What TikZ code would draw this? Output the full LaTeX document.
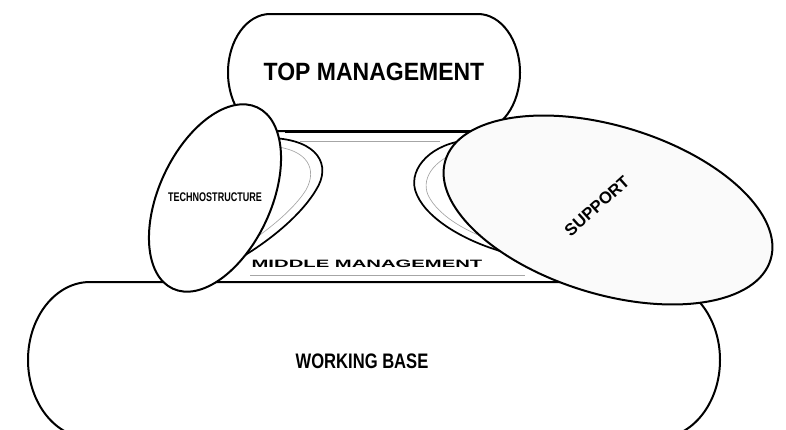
\documentclass[tikz,border=0pt]{standalone}
\usepackage{fontspec}
\setmainfont{Liberation Sans}
\usepackage{graphicx}

\begin{document}
\begin{tikzpicture}[x=0.75pt,y=0.75pt,yscale=-1,xscale=1,
    blob/.style={draw=black, line width=1.5, fill=white},
    rim/.style={draw=black, line width=1.3},
    faint/.style={draw=black!35, line width=0.5}]
				\useasboundingbox (0,0) rectangle (786,429);
				\clip (0,0) rectangle (786,429);
				
				%Shape: Rounded Rect [top management]
				\draw [blob] (270,14) -- (478,14) arc [start angle=-90,end angle=90,x radius=42,y radius=58.5] -- (270,131) arc [start angle=90,end angle=270,x radius=42,y radius=58.5] -- cycle ;
				%Straight Lines [middle management]
				\draw [line width=1.2] (285,132) -- (500,132) ;
				\draw [faint] (300,141) -- (440,141) ;
				\draw [faint] (250,275) -- (525,275) ;
				%Shape: Rounded Rect [working base]
				\draw [blob] (90,282) -- (658,282) arc [start angle=-90,end angle=90,x radius=62,y radius=78] -- (90,438) arc [start angle=90,end angle=270,x radius=62,y radius=78] -- cycle ;
				
				%Curve Lines [shadow of technostructure]
				\draw [rim] (272,138) .. controls (318,140) and (332,165) .. (316,190) .. controls (298,220) and (258,250) .. (222,268) ;
				\draw [faint] (278,147) .. controls (306,151) and (318,168) .. (306,190) .. controls (290,215) and (255,240) .. (225,258) ;
				%Curve Lines [shadow of support]
				\draw [rim] (462,141) .. controls (428,146) and (406,172) .. (417,195) .. controls (428,220) and (468,244) .. (515,255) ;
				\draw [faint] (466,150) .. controls (438,156) and (420,176) .. (428,195) .. controls (438,216) and (470,236) .. (512,246) ;
				
				%Shape: Ellipse [technostructure]
				\draw [blob, rotate around={25:(215,198)}] (215,198) ellipse [x radius=56, y radius=100] ;
				%Shape: Ellipse [support]
				\draw [blob, fill=black!2, rotate around={17:(608,210)}] (608,210) ellipse [x radius=170, y radius=84] ;
				
				% Text Node
				\node (toplbl) at (374,72) {\fontsize{18.75}{20}\selectfont\bfseries\scalebox{0.92}[1]{TOP MANAGEMENT}};
				% Text Node
				\node (midlbl) at (367,264) {\fontsize{8}{9}\selectfont\bfseries\scalebox{1.9}[1]{MIDDLE MANAGEMENT}};
				% Text Node
				\node (baselbl) at (362,361) {\fontsize{15.75}{17}\selectfont\bfseries\scalebox{0.79}[1]{WORKING BASE}};
				% Text Node
				\node (techlbl) at (215,197) {\fontsize{9.4}{10}\selectfont\bfseries\scalebox{0.72}[1]{TECHNOSTRUCTURE}};
				% Text Node
				\node (suplbl) at (597,206) [rotate=42] {\fontsize{12.5}{13}\selectfont\bfseries SUPPORT};
				
\end{tikzpicture}
\end{document}
